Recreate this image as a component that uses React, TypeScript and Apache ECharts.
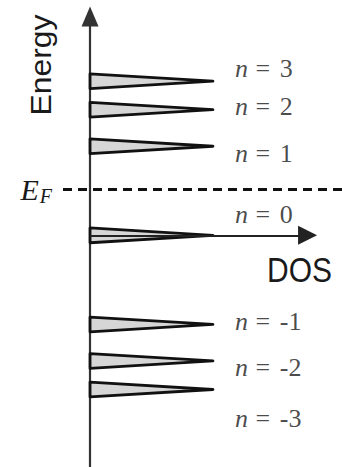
import React, { useEffect, useRef } from "react";
import * as echarts from "echarts";

// Landau level energies (arbitrary units) and their DOS peak heights
const levelIndex = [3, 2, 1, 0, -1, -2, -3];
const peakEnergy = [1.73, 1.41, 1.0, 0, -1.0, -1.41, -1.73];
const peakDOS = [1, 1, 1, 1, 1, 1, 1];
const levelHalfWidth = 0.083;
// Fermi level
const fermiEnergy = 0.52;
// Energies where the level labels sit
const levelLabelEnergy = [1.87, 1.45, 0.92, 0.23, -0.97, -1.48, -2.06];
const labelDOS = 1.18;
const dosAxisEnd = 1.77;

const SERIF = "'Liberation Serif', 'Times New Roman', serif";
const SANS = "'Liberation Sans', Arial, sans-serif";

export default function App() {
  const ref = useRef<HTMLDivElement>(null);
  useEffect(() => {
    if (!ref.current) return;
    const chart = echarts.init(ref.current, null, { renderer: "svg" });
    const peaks = peakEnergy.map((e, i) => [e, peakDOS[i], levelHalfWidth]);
    const labels = levelLabelEnergy.map((e, i) => [labelDOS, e, levelIndex[i]]);
    chart.setOption({
      animation: false,
      backgroundColor: "#fff",
      grid: { left: 63, right: 0, top: 16.5, bottom: -4.5 },
      xAxis: {
        type: "value",
        min: -0.22,
        max: 2.05,
        axisLine: { show: false },
        axisTick: { show: false },
        axisLabel: { show: false },
        splitLine: { show: false },
      },
      yAxis: {
        type: "value",
        min: -2.6,
        max: 2.456,
        axisLine: {
          show: true,
          onZero: true,
          symbol: ["none", "triangle"],
          symbolSize: [17, 20],
          lineStyle: { color: "#333", width: 2.2 },
        },
        axisTick: { show: false },
        axisLabel: { show: false },
        splitLine: { show: false },
      },
      graphic: [
        {
          type: "text",
          x: 41,
          y: 65,
          rotation: Math.PI / 2,
          scaleX: 1.1,
          style: {
            text: "Energy",
            fontFamily: SANS,
            fontSize: 29,
            fill: "#1a1a1a",
            align: "center",
            verticalAlign: "middle",
          },
        },
        {
          type: "text",
          x: 299.5,
          y: 270,
          scaleY: 1.15,
          style: {
            text: "DOS",
            fontFamily: SANS,
            fontSize: 30,
            fill: "#1a1a1a",
            align: "center",
            verticalAlign: "middle",
          },
        },
      ],
      series: [
        {
          type: "custom",
          data: peaks,
          encode: { x: 1, y: 0 },
          renderItem: (params: any, api: any) => {
            const e = api.value(0);
            const h = api.value(1);
            const w = api.value(2);
            const points = [
              api.coord([0, e + w]),
              api.coord([h, e]),
              api.coord([0, e - w]),
            ];
            return {
              type: "polygon",
              shape: { points },
              style: {
                fill: "#d6d6d6",
                stroke: "#111",
                lineWidth: 2.8,
                lineJoin: "round",
              },
            };
          },
          markLine: {
            silent: true,
            symbol: "none",
            animation: false,
            z: 5,
            data: [
              {
                yAxis: fermiEnergy,
                lineStyle: { type: [9, 6], width: 3, color: "#111" },
                label: {
                  show: true,
                  position: "start",
                  distance: 11,
                  formatter: "{e|E}{f|F}",
                  rich: {
                    e: { fontFamily: SERIF, fontStyle: "italic", fontSize: 30, color: "#1a1a1a", padding: [0, 1, 0, 0] },
                    f: { fontFamily: SERIF, fontStyle: "italic", fontSize: 20, color: "#1a1a1a", padding: [14, 0, 0, 0] },
                  },
                },
                emphasis: { disabled: true },
              },
              [
                {
                  coord: [0, 0],
                  symbol: "none",
                  lineStyle: { type: "solid", width: 2.2, color: "#222" },
                  label: { show: false },
                },
                {
                  coord: [dosAxisEnd, 0],
                  symbol: "triangle",
                  symbolSize: 19,
                  lineStyle: { type: "solid", width: 2.2, color: "#222" },
                  label: { show: false },
                },
              ],
            ],
          },
        },
        {
          type: "scatter",
          data: labels,
          symbolSize: 0,
          silent: true,
          label: {
            show: true,
            position: "right",
            distance: 0,
            formatter: (p: any) => `{i|n}{e| = }{d|${p.value[2]}}`,
            rich: {
              i: { fontFamily: SERIF, fontStyle: "italic", fontSize: 26, color: "#1a1a1a" },
              e: { fontFamily: SERIF, fontSize: 26, color: "#1a1a1a", padding: [0, 3, 0, 1] },
              d: { fontFamily: SERIF, fontSize: 26, color: "#1a1a1a" },
            },
          },
        },
      ],
    });
    return () => chart.dispose();
  }, []);
  return (
    <div
      ref={ref}
      style={{ position: "fixed", left: 0, top: 0, width: 342, height: 467, background: "#fff" }}
    />
  );
}
